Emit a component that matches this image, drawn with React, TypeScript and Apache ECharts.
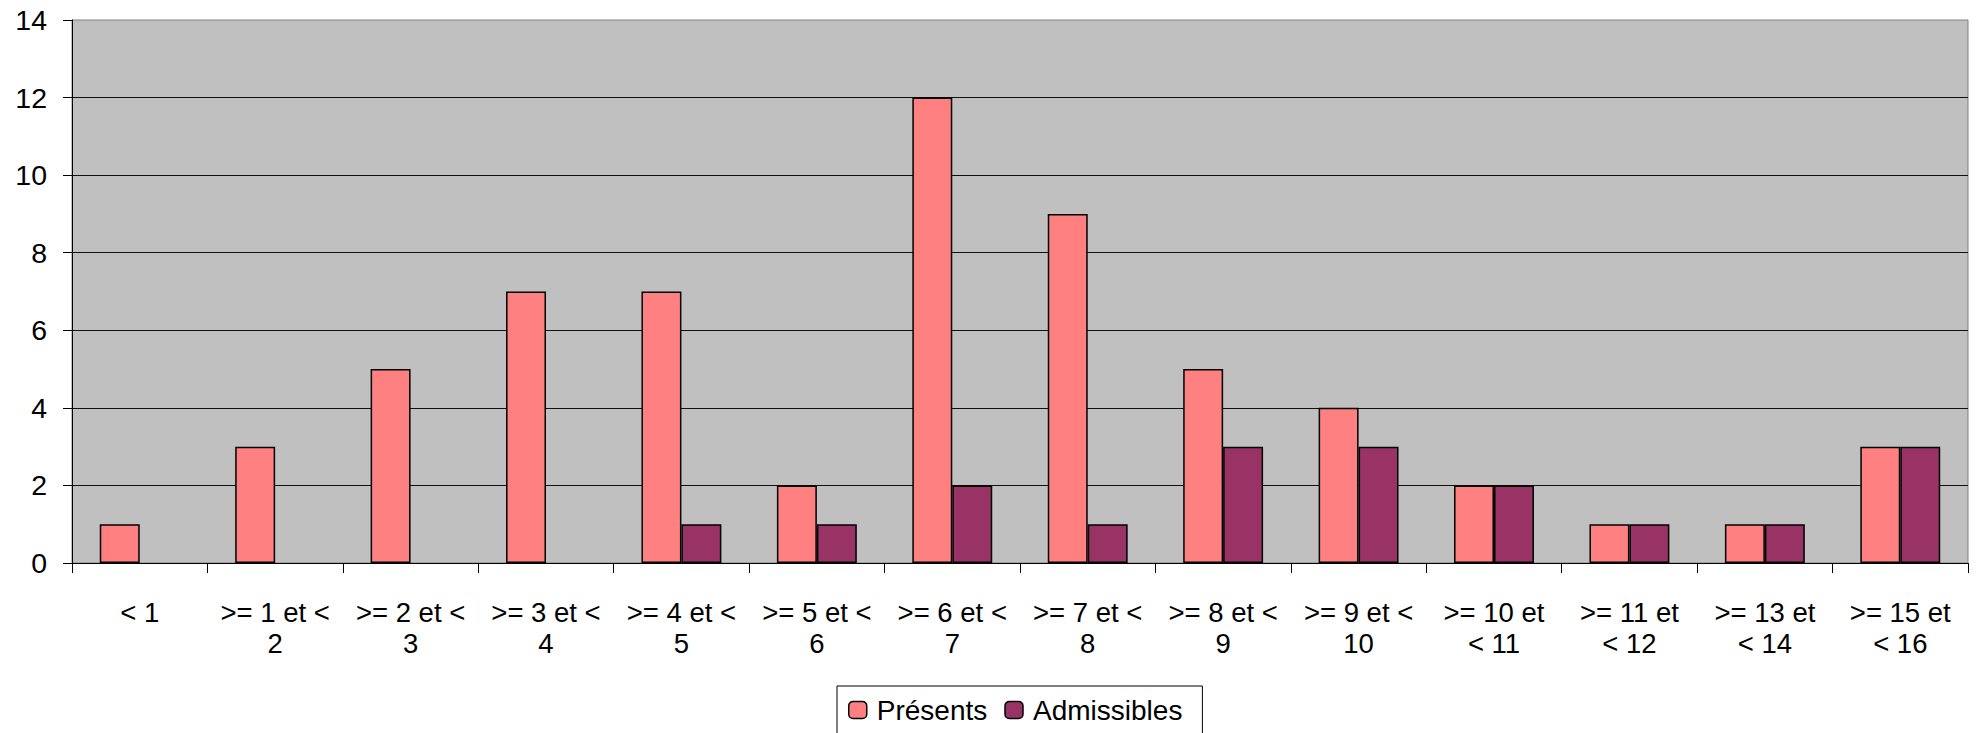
import React, { useEffect, useRef } from "react";
import * as echarts from "echarts";

// Score bands (category labels, wrapped as printed under the axis)
const categories: string[] = [
  "< 1",
  ">= 1 et <\n2",
  ">= 2 et <\n3",
  ">= 3 et <\n4",
  ">= 4 et <\n5",
  ">= 5 et <\n6",
  ">= 6 et <\n7",
  ">= 7 et <\n8",
  ">= 8 et <\n9",
  ">= 9 et <\n10",
  ">= 10 et\n< 11",
  ">= 11 et\n< 12",
  ">= 13 et\n< 14",
  ">= 15 et\n< 16",
];

const presents: number[] = [1, 3, 5, 7, 7, 2, 12, 9, 5, 4, 2, 1, 1, 3];
const admissibles: number[] = [0, 0, 0, 0, 1, 1, 2, 1, 3, 3, 2, 1, 1, 3];

const yTicks = { min: 0, max: 14, interval: 2 };

const FONT = "'Liberation Sans', Arial, sans-serif";

// Empty bands draw no bar at all (no zero-height outline)
const asBars = (values: number[]) => values.map((v) => (v === 0 ? null : v));

export default function App() {
  const ref = useRef<HTMLDivElement>(null);

  useEffect(() => {
    if (!ref.current) return;
    const chart = echarts.init(ref.current, undefined, { renderer: "svg" });
    const barStyle = (color: string) => ({
      color,
      borderColor: "#000",
      borderWidth: 1.5,
    });
    chart.setOption({
      animation: false,
      backgroundColor: "#fff",
      textStyle: { fontFamily: FONT },
      grid: {
        left: 72,
        right: 14,
        top: 20,
        bottom: 170,
        show: true,
        backgroundColor: "#C0C0C0",
        borderColor: "#808080",
        borderWidth: 1,
      },
      legend: {
        top: 686,
        left: 837,
        orient: "horizontal",
        itemWidth: 18,
        itemHeight: 17,
        itemGap: 17,
        padding: [10, 20, 40, 11],
        borderColor: "#000",
        borderWidth: 1,
        backgroundColor: "#fff",
        textStyle: { fontSize: 28, color: "#000", fontFamily: FONT, padding: [0, 0, 0, 5] },
        data: [
          { name: "Présents", itemStyle: { color: "#FF8080", borderColor: "#000", borderWidth: 1.5 } },
          { name: "Admissibles", itemStyle: { color: "#993366", borderColor: "#000", borderWidth: 1.5 } },
        ],
      },
      xAxis: {
        type: "category",
        data: categories,
        axisLine: { show: true, lineStyle: { color: "#000", width: 1 } },
        axisTick: { show: true, length: 10, lineStyle: { color: "#000" } },
        axisLabel: {
          color: "#000",
          fontSize: 27.5,
          lineHeight: 31,
          margin: 34,
          interval: 0,
          fontFamily: FONT,
        },
      },
      yAxis: {
        type: "value",
        min: yTicks.min,
        max: yTicks.max,
        interval: yTicks.interval,
        axisLine: { show: true, lineStyle: { color: "#000", width: 1 } },
        axisTick: { show: true, length: 9, lineStyle: { color: "#000" } },
        axisLabel: { color: "#000", fontSize: 28.5, margin: 25, fontFamily: FONT },
        splitLine: { show: true, showMaxLine: false, lineStyle: { color: "#111", width: 1 } },
      },
      series: [
        {
          name: "Présents",
          type: "bar",
          data: asBars(presents),
          itemStyle: barStyle("#FF8080"),
          barGap: "0%",
          barCategoryGap: "41%",
        },
        {
          name: "Admissibles",
          type: "bar",
          data: asBars(admissibles),
          itemStyle: barStyle("#993366"),
          barGap: "0%",
          barCategoryGap: "41%",
        },
      ],
    });
    return () => chart.dispose();
  }, []);

  return (
    <div
      ref={ref}
      style={{ position: "fixed", left: 0, top: 0, width: 1982, height: 733 }}
    />
  );
}
